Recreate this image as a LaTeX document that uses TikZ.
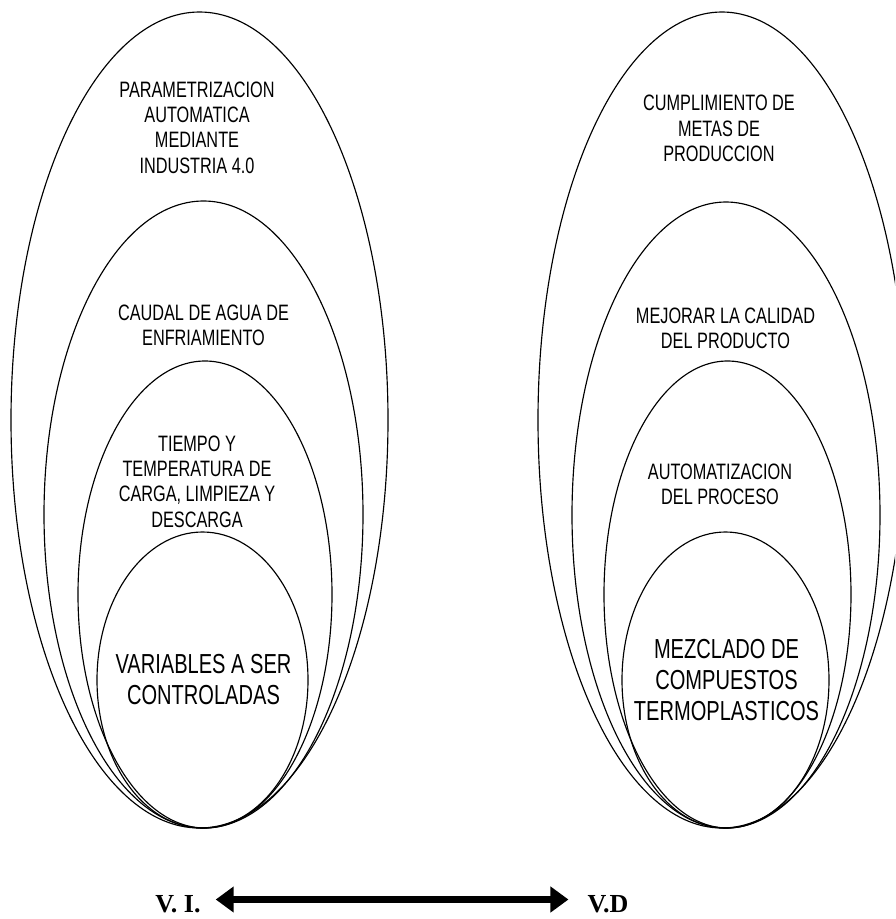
\documentclass[tikz,border=0pt]{standalone}
\usepackage{fontspec}
\setmainfont[FakeStretch=0.73]{Liberation Sans}
\newfontfamily\labelfont{Liberation Serif}
\usetikzlibrary{shapes.geometric, arrows.meta}

\begin{document}
\begin{tikzpicture}[
    x=1pt, y=-1pt,
    ring/.style={ellipse, draw, line width=1.15pt, inner sep=0pt, outer sep=0pt},
    txt/.style={align=center, inner sep=0pt, font=\fontsize{22.3}{25.3}\selectfont},
    core/.style={align=center, inner sep=0pt, font=\fontsize{27.5}{31}\selectfont},
    lbl/.style={inner sep=0pt, font=\labelfont\bfseries\fontsize{26}{30}\selectfont},
    biarr/.style={{Triangle[length=18pt, width=25pt]}-{Triangle[length=18pt, width=25pt]}, line width=7.5pt}
  ]
    \useasboundingbox (0,0) rectangle (895,919);
    \clip (0,0) rectangle (895,919);

    \node[ring, minimum width=377pt, minimum height=816pt] (vi1) at (199.5,420) {};
    \node[ring, minimum width=319pt, minimum height=627pt] (vi2) at (203.5,514.5) {};
    \node[ring, minimum width=254pt, minimum height=467pt] (vi3) at (205,594.5) {};
    \node[ring, minimum width=211pt, minimum height=296pt] (vi4) at (202.5,680) {};

    \node[ring, minimum width=368pt, minimum height=816pt] (vd1) at (722,420) {};
    \node[ring, minimum width=308pt, minimum height=626pt] (vd2) at (726,515) {};
    \node[ring, minimum width=247pt, minimum height=467pt] (vd3) at (727.5,594.5) {};
    \node[ring, minimum width=207pt, minimum height=296pt] (vd4) at (725.5,680) {};

    \node[txt] (param) at (197,127.5) {PARAMETRIZACION\\AUTOMATICA\\MEDIANTE\\INDUSTRIA 4.0};
    \node[txt] (caudal) at (203.5,325.5) {CAUDAL DE AGUA DE\\ENFRIAMIENTO};
    \node[txt] (tiempo) at (197,481.5) {TIEMPO Y\\TEMPERATURA DE\\CARGA, LIMPIEZA Y\\DESCARGA};
    \node[core] (variables) at (203.5,680) {VARIABLES A SER\\CONTROLADAS};

    \node[txt] (metas) at (719,128.5) {CUMPLIMIENTO DE\\METAS DE\\PRODUCCION};
    \node[txt] (calidad) at (725.5,328) {MEJORAR LA CALIDAD\\DEL PRODUCTO};
    \node[txt] (proceso) at (720,484) {AUTOMATIZACION\\DEL PROCESO};
    \node[core] (mezclado) at (726.5,680) {MEZCLADO DE\\COMPUESTOS\\TERMOPLASTICOS};

    \node[lbl] (vi) at (178,904) {V. I.};
    \node[lbl] (vd) at (608,904) {V.D};
    \draw[biarr] ([xshift=15pt,yshift=4.5pt]vi.east) -- ([xshift=-19pt,yshift=4.5pt]vd.west);
  \end{tikzpicture}
\end{document}
